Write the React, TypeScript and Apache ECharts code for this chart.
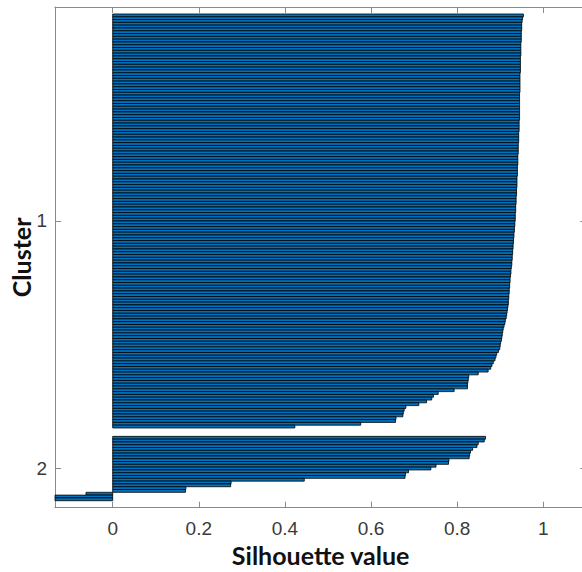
import React, { useEffect, useRef } from "react";
import * as echarts from "echarts";

// Silhouette values, sorted descending within each cluster
const cluster1: number[] = [
  0.954, 0.952,
  0.951, 0.950, 0.950, 0.950, 0.949, 0.949, 0.949, 0.949, 0.948, 0.948, 0.948, 0.948, 0.948,
  0.947, 0.947, 0.947, 0.947, 0.947, 0.947, 0.946, 0.946, 0.946, 0.946, 0.946, 0.946, 0.946,
  0.945, 0.945, 0.945, 0.945, 0.945, 0.945, 0.945, 0.945, 0.945, 0.945,
  0.944, 0.944, 0.944, 0.944, 0.943, 0.943, 0.943, 0.943, 0.942, 0.942, 0.942, 0.942,
  0.941, 0.941, 0.941, 0.941, 0.940, 0.940, 0.940, 0.940, 0.939, 0.939, 0.939, 0.939,
  0.938, 0.938, 0.938, 0.937, 0.937, 0.937, 0.936, 0.936, 0.936, 0.935, 0.935, 0.935,
  0.934, 0.934, 0.933,
  0.933, 0.932, 0.932, 0.931, 0.931, 0.930, 0.930, 0.929, 0.929, 0.928, 0.928, 0.927,
  0.927, 0.926, 0.925, 0.925, 0.924, 0.923,
  0.923, 0.922, 0.922, 0.921, 0.921, 0.920, 0.920, 0.919, 0.919, 0.918, 0.917,
  0.916, 0.915, 0.914, 0.912, 0.911, 0.909, 0.907,
  0.906, 0.905, 0.904, 0.903, 0.901, 0.900, 0.899, 0.896, 0.892, 0.890, 0.888, 0.884,
  0.881, 0.878, 0.872,
  0.849, 0.827, 0.826, 0.825, 0.824, 0.824, 0.793, 0.756, 0.745, 0.741, 0.729, 0.711,
  0.681, 0.677, 0.675, 0.674, 0.658, 0.657, 0.576, 0.423,
];

const cluster2: number[] = [
  0.866, 0.863, 0.849, 0.846, 0.836, 0.831, 0.829, 0.828, 0.781, 0.780, 0.751, 0.739,
  0.687, 0.680, 0.679, 0.445, 0.275, 0.274, 0.170, 0.169, -0.062, -0.134, -0.134,
];

const clusterLabels: string[] = ["1", "2"];
const xTicks: number[] = [0, 0.2, 0.4, 0.6, 0.8, 1];
const xMin = -0.134;
const xMax = 1.1;

export default function App() {
  const ref = useRef<HTMLDivElement>(null);

  useEffect(() => {
    if (!ref.current) return;
    const chart = echarts.init(ref.current, undefined, { renderer: "svg" });

    // Build MATLAB-style bar index layout: space rows around clusters
    const clusters = [cluster1, cluster2];
    const n = cluster1.length + cluster2.length;
    const space = Math.max(Math.floor(0.02 * n), 2);
    const data: [number, number][] = [];
    const tickPos: number[] = [];
    let idx = space;
    clusters.forEach((c) => {
      const start = idx + 1;
      c.forEach((v) => {
        idx += 1;
        data.push([v, idx]);
      });
      tickPos.push((start + idx) / 2);
      idx += space;
    });
    const total = idx;

    const labelFont = "'Liberation Sans Narrow', 'Liberation Sans', Arial, sans-serif";
    const titleFont = "Lato, 'Open Sans', sans-serif";
    const axisColor = "#8a8a8a";

    chart.setOption({
      animation: false,
      backgroundColor: "#ffffff",
      grid: {
        left: 55,
        top: 7,
        width: 531.3,
        height: 500.7,
        containLabel: false,
        outerBoundsMode: "none",
      },
      xAxis: [
        {
          type: "value",
          position: "bottom",
          min: xMin,
          max: xMax,
          splitLine: { show: false },
          axisLine: { show: true, onZero: false, lineStyle: { color: axisColor, width: 1 } },
          axisTick: { show: true, inside: true, length: 6, customValues: xTicks, lineStyle: { color: axisColor } },
          axisLabel: {
            show: true,
            customValues: xTicks,
            margin: 11,
            fontSize: 19,
            color: "#3a3a3a",
            fontFamily: labelFont,
          },
          name: "Silhouette value",
          nameLocation: "middle",
          nameGap: 35,
          nameMoveOverlap: false,
          nameTextStyle: { fontSize: 25, fontWeight: "bold", color: "#111", fontFamily: titleFont },
        },
        {
          type: "value",
          position: "top",
          min: xMin,
          max: xMax,
          splitLine: { show: false },
          axisLine: { show: true, onZero: false, lineStyle: { color: axisColor, width: 1 } },
          axisTick: { show: true, inside: true, length: 6, customValues: xTicks, lineStyle: { color: axisColor } },
          axisLabel: { show: false },
        },
      ],
      yAxis: [
        {
          type: "value",
          position: "left",
          inverse: true,
          min: 1,
          max: total,
          splitLine: { show: false },
          axisLine: { show: true, onZero: false, lineStyle: { color: axisColor, width: 1 } },
          axisTick: { show: true, inside: true, length: 6, customValues: tickPos, lineStyle: { color: axisColor } },
          axisLabel: {
            show: true,
            customValues: tickPos,
            formatter: (v: number) => {
              const i = tickPos.indexOf(v);
              return i >= 0 ? clusterLabels[i] : "";
            },
            margin: 8,
            fontSize: 19,
            color: "#3a3a3a",
            fontFamily: labelFont,
          },
          name: "Cluster",
          nameLocation: "middle",
          nameGap: 22,
          nameRotate: 90,
          nameMoveOverlap: false,
          nameTextStyle: { fontSize: 25, fontWeight: "bold", color: "#111", fontFamily: titleFont },
        },
        {
          type: "value",
          position: "right",
          inverse: true,
          min: 1,
          max: total,
          splitLine: { show: false },
          axisLine: { show: true, onZero: false, lineStyle: { color: axisColor, width: 1 } },
          axisTick: { show: true, inside: true, length: 6, customValues: tickPos, lineStyle: { color: axisColor } },
          axisLabel: { show: false },
        },
      ],
      series: [
        {
          type: "custom",
          xAxisIndex: 0,
          yAxisIndex: 0,
          encode: { x: 0, y: 1 },
          data,
          renderItem: (params: any, api: any) => {
            const v = api.value(0);
            const i = api.value(1);
            const p0 = api.coord([0, i - 0.5]);
            const p1 = api.coord([v, i + 0.5]);
            return {
              type: "rect",
              shape: {
                x: Math.min(p0[0], p1[0]),
                y: Math.min(p0[1], p1[1]),
                width: Math.abs(p1[0] - p0[0]),
                height: Math.abs(p1[1] - p0[1]),
              },
              style: { fill: "#0072BD", stroke: "#000000", lineWidth: 0.8 },
            };
          },
        },
      ],
    });

    return () => chart.dispose();
  }, []);

  return (
    <div
      ref={ref}
      style={{ position: "absolute", left: 0, top: 0, width: 582, height: 572 }}
    />
  );
}
